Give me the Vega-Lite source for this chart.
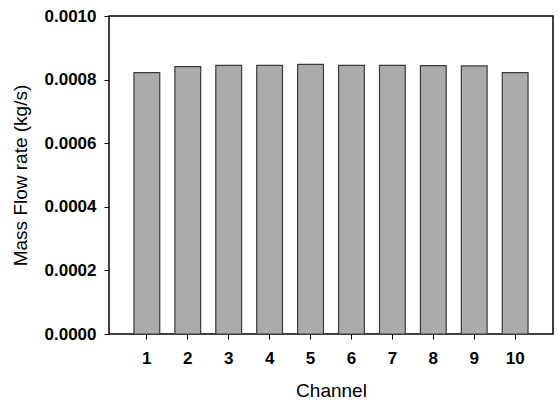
{
  "$schema": "https://vega.github.io/schema/vega-lite/v6.json",
  "autosize": "none",
  "width": 444,
  "height": 318,
  "padding": {"left": 109, "top": 16, "right": 5, "bottom": 67},
  "background": "white",
  "config": {
    "view": {"stroke": "black", "strokeWidth": 1.5},
    "font": "Liberation Sans"
  },
  "data": {
    "values": [
      {"channel": "1", "flow": 0.000822},
      {"channel": "2", "flow": 0.000841},
      {"channel": "3", "flow": 0.000845},
      {"channel": "4", "flow": 0.000845},
      {"channel": "5", "flow": 0.000848},
      {"channel": "6", "flow": 0.000845},
      {"channel": "7", "flow": 0.000845},
      {"channel": "8", "flow": 0.000844},
      {"channel": "9", "flow": 0.000843},
      {"channel": "10", "flow": 0.000822}
    ]
  },
  "mark": {"type": "bar", "fill": "#ababab", "stroke": "#3a3a3a", "strokeWidth": 1.2},
  "encoding": {
    "x": {
      "field": "channel",
      "type": "ordinal",
      "sort": null,
      "scale": {"paddingInner": 0.37, "paddingOuter": 0.61},
      "axis": {
        "title": "Channel",
        "titleFontSize": 19,
        "titleFontWeight": "normal",
        "titleColor": "black",
        "titlePadding": 15,
        "labelAngle": 0,
        "labelFontSize": 17,
        "labelFontWeight": "bold",
        "labelColor": "black",
        "labelPadding": 11,
        "tickSize": 5,
        "tickColor": "black",
        "domain": false,
        "grid": false
      }
    },
    "y": {
      "field": "flow",
      "type": "quantitative",
      "scale": {"domain": [0, 0.001], "nice": false},
      "axis": {
        "title": "Mass Flow rate (kg/s)",
        "titleFontSize": 19,
        "titleFontWeight": "normal",
        "titleColor": "black",
        "titlePadding": 14,
        "values": [0, 0.0002, 0.0004, 0.0006, 0.0008, 0.001],
        "format": ".4f",
        "labelFontSize": 17,
        "labelFontWeight": "bold",
        "labelColor": "black",
        "labelPadding": 8,
        "tickSize": 5,
        "tickColor": "black",
        "domain": false,
        "grid": false
      }
    }
  }
}
